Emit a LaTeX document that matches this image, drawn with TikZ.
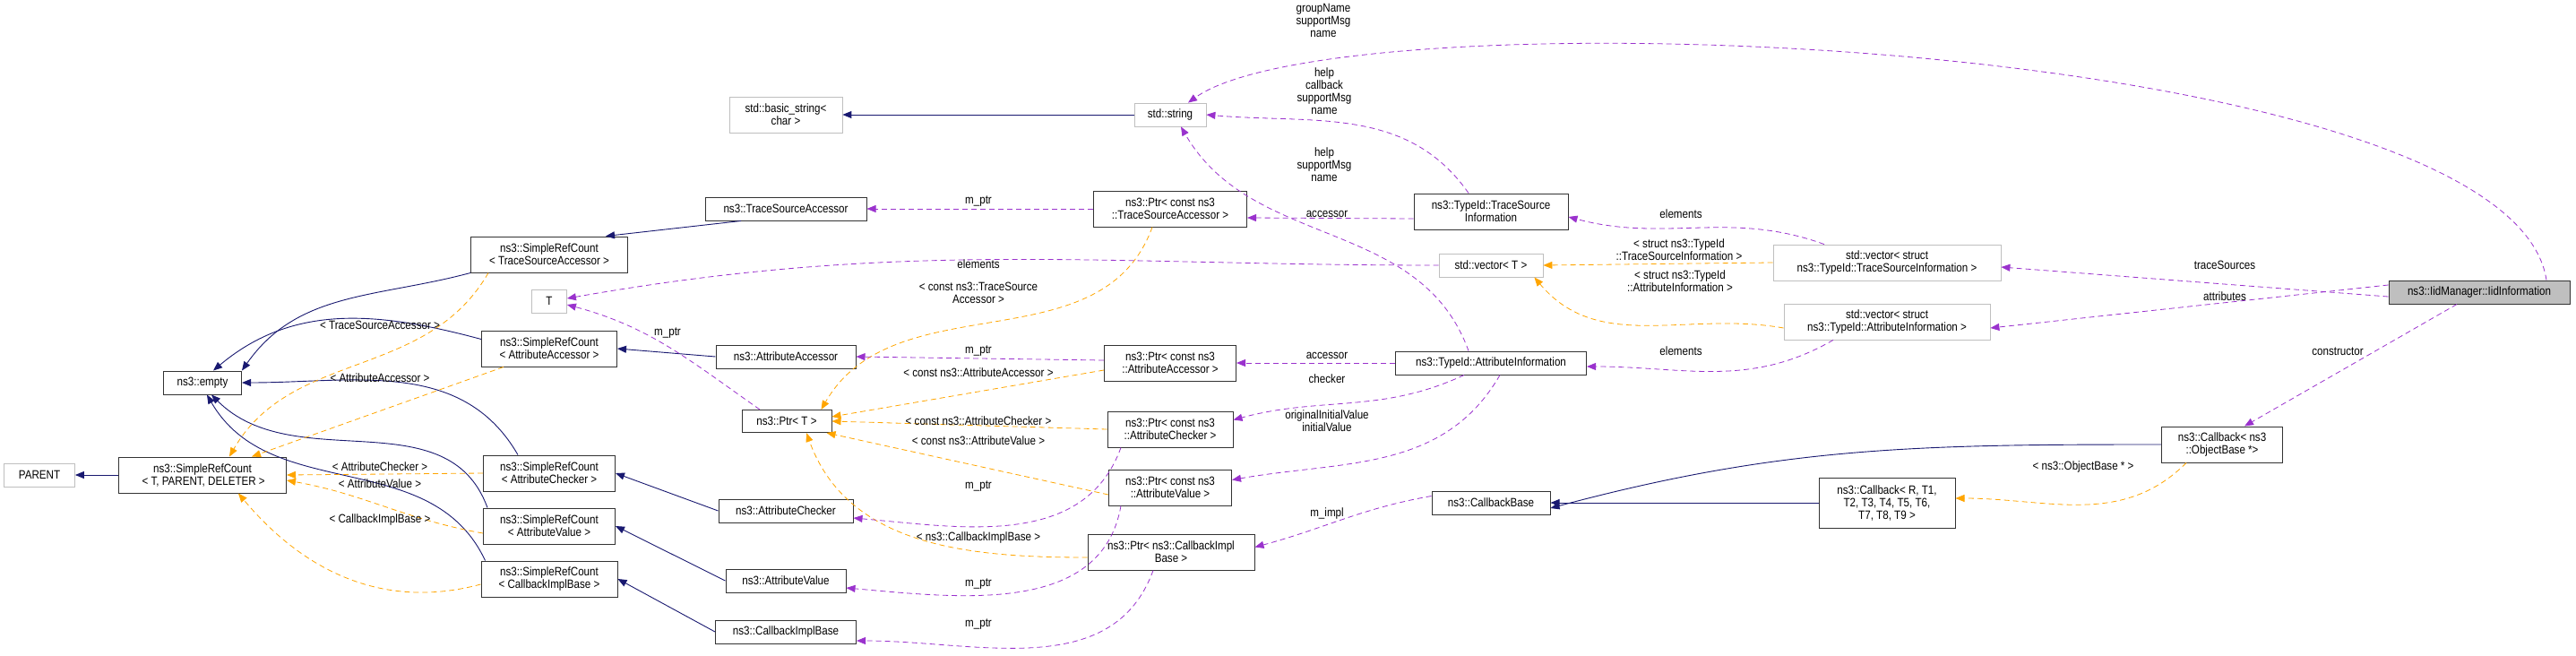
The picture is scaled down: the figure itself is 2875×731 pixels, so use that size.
\documentclass[tikz,border=0pt]{standalone}
\usepackage{fontspec}
\setmainfont{Liberation Sans}[FakeStretch=0.86]
\usepackage{tikz}
\usetikzlibrary{arrows.meta}
\definecolor{inhblue}{HTML}{191970}
\definecolor{usepurple}{HTML}{9A32CD}
\definecolor{tplorange}{HTML}{FFA500}
\definecolor{boxgray}{HTML}{BFBFBF}
\begin{document}
\begin{tikzpicture}[x=1pt, y=-1pt,
        font=\fontsize{13.5}{14}\selectfont,
        cls/.style={draw=black!80, line width=1pt, fill=white, inner sep=1pt, align=center, minimum height=26pt},
        ext/.style={cls, draw=boxgray, line width=0.8pt},
        two/.style={minimum height=40pt},
        lbl/.style={inner sep=0pt, align=center},
        inh/.style={draw=inhblue, line width=0.9pt, -{Triangle[length=10pt,width=8pt]}},
        use/.style={draw=usepurple, line width=0.8pt, dash pattern=on 6pt off 4pt, -{Triangle[length=10pt,width=8pt]}},
        tpl/.style={draw=tplorange, line width=0.8pt, dash pattern=on 6pt off 4pt, -{Triangle[length=10pt,width=8pt]}}
    ]
    \useasboundingbox (0,0) rectangle (2875,731);

    % left column
    \node[ext, minimum width=79pt] (parent) at (44,530) {PARENT};
    \node[cls, two, minimum width=187pt] (srctpd) at (226,530) {ns3::SimpleRefCount\\\,< T, PARENT, DELETER >};
    \node[cls, minimum width=87pt] (empty) at (226,427) {ns3::empty};
    \node[cls, two, minimum width=175pt] (srctsa) at (613,284) {ns3::SimpleRefCount\\< TraceSourceAccessor >};
    \node[ext, minimum width=39pt] (t) at (613,336) {T};
    \node[cls, two, minimum width=151pt] (srcaa) at (613,389) {ns3::SimpleRefCount\\< AttributeAccessor >};
    \node[cls, two, minimum width=147pt] (srcac) at (613,528) {ns3::SimpleRefCount\\< AttributeChecker >};
    \node[cls, two, minimum width=147pt] (srcav) at (613,587) {ns3::SimpleRefCount\\< AttributeValue >};
    \node[cls, two, minimum width=152pt] (srccib) at (613,646) {ns3::SimpleRefCount\\< CallbackImplBase >};

    % second column
    \node[ext, two, minimum width=126pt] (basicstr) at (877,128) {std::basic\_string<\\char >};
    \node[cls, minimum width=180pt] (tsa) at (877,233) {ns3::TraceSourceAccessor};
    \node[cls, minimum width=156pt] (aa) at (877,398) {ns3::AttributeAccessor};
    \node[cls, minimum width=100pt, minimum height=25pt] (ptrt) at (878,470) {ns3::Ptr< T >};
    \node[cls, minimum width=150pt] (ac) at (877,570) {ns3::AttributeChecker};
    \node[cls, minimum width=134pt] (av) at (877,648) {ns3::AttributeValue};
    \node[cls, minimum width=157pt] (cib) at (877,705) {ns3::CallbackImplBase};

    % third column
    \node[ext, minimum width=80pt] (str) at (1306,128) {std::string};
    \node[cls, two, minimum width=171pt] (ptrtsa) at (1306,233) {ns3::Ptr< const ns3\\::TraceSourceAccessor >};
    \node[cls, two, minimum width=147pt] (ptraa) at (1306,405) {ns3::Ptr< const ns3\\::AttributeAccessor >};
    \node[cls, two, minimum width=140pt] (ptrac) at (1306,479) {ns3::Ptr< const ns3\\::AttributeChecker >};
    \node[cls, two, minimum width=137pt] (ptrav) at (1306,544) {ns3::Ptr< const ns3\\::AttributeValue >};
    \node[cls, two, minimum width=186pt] (ptrcib) at (1307,616) {ns3::Ptr< ns3::CallbackImpl\\Base >};

    % fourth column
    \node[cls, two, minimum width=172pt] (tsinfo) at (1664,236) {ns3::TypeId::TraceSource\\Information};
    \node[ext, minimum width=116pt] (vect) at (1664,296) {std::vector< T >};
    \node[cls, minimum width=213pt] (ainfo) at (1664,405) {ns3::TypeId::AttributeInformation};
    \node[cls, minimum width=132pt] (cbbase) at (1664,561) {ns3::CallbackBase};

    % right part
    \node[ext, two, minimum width=254pt] (vectsi) at (2106,293) {std::vector< struct\\ns3::TypeId::TraceSourceInformation >};
    \node[ext, two, minimum width=230pt] (vecai) at (2106,359) {std::vector< struct\\ns3::TypeId::AttributeInformation >};
    \node[cls, minimum width=152pt, minimum height=56pt] (cbr) at (2106,561) {ns3::Callback< R, T1,\\T2, T3, T4, T5, T6,\\T7, T8, T9 >};
    \node[cls, two, minimum width=135pt] (cbob) at (2480,496) {ns3::Callback< ns3\\::ObjectBase *>};
    \node[cls, fill=boxgray, minimum width=202pt] (iid) at (2767,326) {ns3::IidManager::IidInformation};

    % inheritance
    \draw[inh] (srctpd) -- (parent);
    \draw[inh] (srctsa.south west) to[out=195, in=55] (empty.north east);
    \draw[inh] ([yshift=-10pt]srcaa.north west) to[out=165, in=40] ([xshift=12pt]empty.north);
    \draw[inh] ([xshift=-35pt]srcac.north) to[out=120, in=0] (empty.east);
    \draw[inh] ([xshift=5pt]srcav.north west) to[out=110, in=-45] ([xshift=10pt]empty.south);
    \draw[inh] ([xshift=5pt]srccib.north west) to[out=115, in=-60] ([xshift=5pt]empty.south);
    \draw[inh] ([xshift=-50pt]tsa.south) -- ([xshift=-25pt]srctsa.north east);
    \draw[inh] (aa.west) -- (srcaa.east);
    \draw[inh] (ac.west) -- (srcac.east);
    \draw[inh] (av.west) -- (srcav.east);
    \draw[inh] (cib.west) -- (srccib.east);
    \draw[inh] (str) -- (basicstr);
    \draw[inh] (cbob.west) to[out=180, in=15] ([yshift=-6pt]cbbase.east);
    \draw[inh] (cbr.west) -- (cbbase.east);

    % template instances
    \draw[tpl] ([xshift=20pt]srctsa.south west) to[out=-120, in=60] ([xshift=30pt]srctpd.north);
    \draw[tpl] ([xshift=25pt]srcaa.south west) -- ([xshift=55pt]srctpd.north);
    \draw[tpl] (srcac.west) -- (srctpd.east);
    \draw[tpl] ([yshift=-8pt]srcav.west) to[out=170, in=-10] ([yshift=-6pt]srctpd.east);
    \draw[tpl] ([yshift=-6pt]srccib.west) to[out=195, in=-50] ([xshift=40pt]srctpd.south);
    \draw[tpl] ([xshift=-20pt]ptrtsa.south) to[out=-110, in=60] ([xshift=-12pt]ptrt.north east);
    \draw[tpl] ([yshift=-8pt]ptraa.west) -- ([yshift=5pt]ptrt.east);
    \draw[tpl] (ptrac.west) -- (ptrt.east);
    \draw[tpl] ([yshift=-8pt]ptrav.west) -- ([xshift=-6pt]ptrt.south east);
    \draw[tpl] ([yshift=-6pt]ptrcib.west) to[out=180, in=-70] ([xshift=22pt]ptrt.south);
    \draw[tpl] (vectsi.west) -- (vect.east);
    \draw[tpl] ([yshift=-7pt]vecai.west) to[out=170, in=-50] ([xshift=-10pt]vect.south east);
    \draw[tpl] ([xshift=-40pt]cbob.south) to[out=-135, in=0] ([yshift=5pt]cbr.east);

    % members
    \draw[use] (ptrtsa.west) -- (tsa.east);
    \draw[use] ([yshift=3pt]ptraa.west) -- (aa.east);
    \draw[use] ([xshift=-55pt]ptrac.south) to[out=-110, in=-5] ([yshift=-8pt]ac.east);
    \draw[use] ([xshift=-55pt]ptrav.south) to[out=-100, in=-5] ([yshift=-8pt]av.east);
    \draw[use] ([xshift=-20pt]ptrcib.south) to[out=-110, in=0] ([yshift=-10pt]cib.east);
    \draw[use] ([xshift=-30pt]ptrt.north) to[out=145, in=-15] ([yshift=-4pt]t.east);
    \draw[use] (vect.west) to[out=180, in=10] ([yshift=3pt]t.east);
    \draw[use] ([xshift=-25pt]tsinfo.north) to[out=125, in=-5] (str.east);
    \draw[use] ([xshift=-25pt]ainfo.north) to[out=110, in=-60] ([xshift=12pt]str.south);
    \draw[use] ([yshift=-8pt]tsinfo.west) -- ([yshift=-10pt]ptrtsa.east);
    \draw[use] (ainfo.west) -- (ptraa.east);
    \draw[use] ([xshift=-30pt]ainfo.south) to[out=-155, in=15] ([yshift=-10pt]ptrac.north east);
    \draw[use] ([xshift=10pt]ainfo.south) to[out=-120, in=10] ([yshift=-12pt]ptrav.north east);
    \draw[use] ([yshift=-6pt]cbbase.north west) to[out=190, in=15] ([yshift=-15pt]ptrcib.north east);
    \draw[use] ([xshift=-70pt]vectsi.north) to[out=160, in=-15] ([yshift=-6pt]tsinfo.east);
    \draw[use] ([xshift=-60pt]vecai.south) to[out=-150, in=0] ([yshift=-4pt]ainfo.east);
    \draw[use] ([yshift=-5pt]iid.west) -- ([yshift=-5pt]vectsi.east);
    \draw[use] ([yshift=8pt]iid.west) -- ([yshift=-7pt]vecai.east);
    \draw[use] ([xshift=-25pt]iid.south) -- ([xshift=25pt]cbob.north);
    \draw[use] ([xshift=75pt]iid.north) .. controls (2800,40) and (1500,-10) .. ([xshift=20pt]str.north);

    % edge labels
    \node[lbl] (lgroup) at (1477,23) {groupName\\supportMsg\\name};
    \node[lbl] (lhelpcb) at (1478,102) {help\\callback\\supportMsg\\name};
    \node[lbl] (lhelp) at (1478,184) {help\\supportMsg\\name};
    \node[lbl] (lmptsa) at (1092,225) {m\_ptr};
    \node[lbl] (laccts) at (1481,239) {accessor};
    \node[lbl] (lelemt) at (1092,295) {elements};
    \node[lbl] (lptrtsa) at (1092,327) {< const ns3::TraceSource\\Accessor >};
    \node[lbl] (lmpt) at (745,372) {m\_ptr};
    \node[lbl] (lmpaa) at (1092,392) {m\_ptr};
    \node[lbl] (laccaa) at (1481,397) {accessor};
    \node[lbl] (lptraa) at (1092,416) {< const ns3::AttributeAccessor >};
    \node[lbl] (lcheck) at (1481,423) {checker};
    \node[lbl] (linit) at (1481,470) {originalInitialValue\\initialValue};
    \node[lbl] (lptrac) at (1092,470) {< const ns3::AttributeChecker >};
    \node[lbl] (lptrav) at (1092,492) {< const ns3::AttributeValue >};
    \node[lbl] (lmpac) at (1092,543) {m\_ptr};
    \node[lbl] (lmimpl) at (1481,573) {m\_impl};
    \node[lbl] (lptrcib) at (1092,600) {< ns3::CallbackImplBase >};
    \node[lbl] (lmpav) at (1092,652) {m\_ptr};
    \node[lbl] (lmpcib) at (1092,697) {m\_ptr};
    \node[lbl] (ltsaT) at (424,363) {< TraceSourceAccessor >};
    \node[lbl] (laaT) at (424,422) {< AttributeAccessor >};
    \node[lbl] (lacT) at (424,521) {< AttributeChecker >};
    \node[lbl] (lavT) at (424,540) {< AttributeValue >};
    \node[lbl] (lcibT) at (424,580) {< CallbackImplBase >};
    \node[lbl] (lelemtsi) at (1876,239) {elements};
    \node[lbl] (ltsiT) at (1874,279) {< struct ns3::TypeId\\::TraceSourceInformation >};
    \node[lbl] (laiT) at (1875,314) {< struct ns3::TypeId\\::AttributeInformation >};
    \node[lbl] (lelemai) at (1876,392) {elements};
    \node[lbl] (ltrace) at (2483,296) {traceSources};
    \node[lbl] (lattr) at (2483,331) {attributes};
    \node[lbl] (lctor) at (2609,392) {constructor};
    \node[lbl] (lobT) at (2325,521) {< ns3::ObjectBase * >};
\end{tikzpicture}
\end{document}
